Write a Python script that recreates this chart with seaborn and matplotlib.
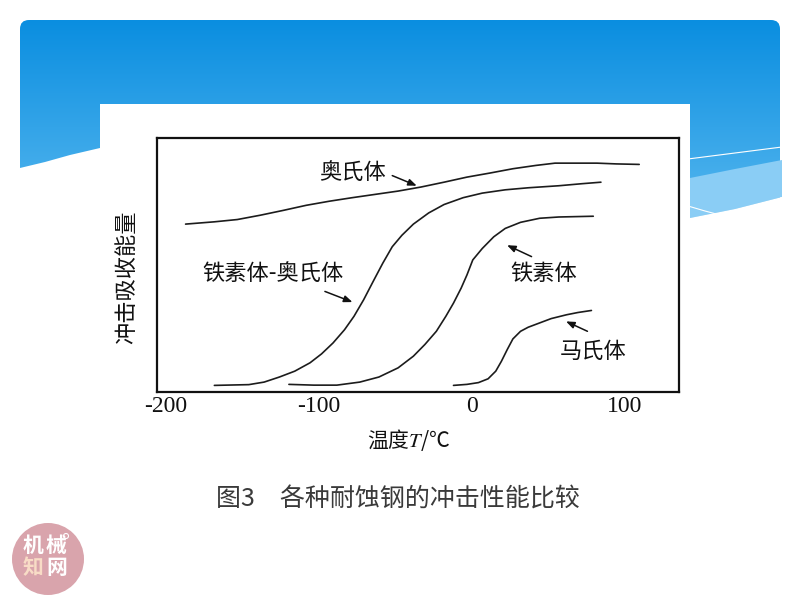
import numpy as np
import pandas as pd
import matplotlib
matplotlib.use('Agg')
import matplotlib.pyplot as plt
from matplotlib.patches import FancyBboxPatch, Rectangle, Polygon, Circle
import seaborn as sns

# Impact energy curves (temperature in degC, energy in relative units 0-100)
aus_T = [-187.0, -168.2, -153.2, -138.2, -123.2, -108.2, -93.2, -78.2, -63.2, -48.2, -33.2,
         -18.2, -3.2, 11.8, 26.8, 41.8, 54.3, 69.3, 81.8, 94.3, 109.3]
aus_E = [66.1, 67.0, 67.9, 69.6, 71.5, 73.5, 75.1, 76.5, 77.8, 79.1, 80.7,
         82.6, 84.6, 86.2, 87.9, 89.2, 90.1, 90.1, 90.1, 89.8, 89.6]

fa_T = [-168.2, -145.7, -135.7, -125.7, -115.7, -105.7, -98.2, -90.7, -83.2, -77.0, -70.7,
        -64.5, -58.2, -52.0, -45.7, -38.2, -28.2, -18.2, -5.7, 6.8, 21.8, 36.8, 56.8, 71.8, 84.3]
fa_E = [2.6, 2.9, 3.9, 5.9, 8.2, 11.5, 15.0, 19.3, 24.5, 29.8, 36.3,
        43.5, 50.7, 57.2, 61.7, 66.1, 70.5, 73.8, 76.5, 78.3, 79.6, 80.4, 81.2, 82.0, 82.6]

fer_T = [-119.5, -103.2, -88.2, -73.2, -60.7, -48.2, -38.2, -30.7, -23.2, -17.0, -12.0,
         -7.0, -3.2, 0.6, 6.8, 14.3, 21.8, 31.8, 44.3, 56.8, 79.3]
fer_E = [3.0, 2.7, 2.7, 3.9, 5.9, 9.5, 14.1, 18.7, 23.9, 29.8, 35.0,
         40.9, 46.1, 52.0, 56.5, 61.1, 64.4, 66.8, 68.4, 68.9, 69.2]

mar_T = [-12.0, -3.2, 4.3, 10.6, 15.6, 19.3, 23.1, 26.8, 31.8, 36.8, 44.3, 51.8, 61.8, 69.3, 78.1]
mar_E = [2.6, 3.0, 3.7, 5.2, 8.2, 12.1, 16.7, 20.9, 23.9, 25.5, 27.2, 28.9, 30.4, 31.3, 32.1]

steel_names = ['奥氏体', '铁素体-奥氏体', '铁素体', '马氏体']

# label position and arrow (tail -> tip) for each curve
label_xy = [(-78, 86.4), (-130, 46.5), (47, 46.5), (79, 16.0)]
arrow_tail = [(-52, 85.2), (-96, 39.6), (39, 53.3), (75.5, 23.9)]
arrow_tip = [(-36, 81.2), (-78, 35.4), (23, 57.8), (61.5, 27.8)]

xticks = [-200, -100, 0, 100]

df = pd.concat([
    pd.DataFrame({'T': aus_T, 'E': aus_E, 'steel': steel_names[0]}),
    pd.DataFrame({'T': fa_T, 'E': fa_E, 'steel': steel_names[1]}),
    pd.DataFrame({'T': fer_T, 'E': fer_E, 'steel': steel_names[2]}),
    pd.DataFrame({'T': mar_T, 'E': mar_E, 'steel': steel_names[3]}),
], ignore_index=True)

sns.set_style('white')
plt.rcParams['font.family'] = ['Noto Sans CJK SC', 'DejaVu Sans']
plt.rcParams['mathtext.fontset'] = 'stix'

fig = plt.figure(figsize=(8, 6), dpi=100)

# slide background in pixel coordinates
bg = fig.add_axes([0, 0, 1, 1], zorder=0)
bg.set_xlim(0, 800)
bg.set_ylim(600, 0)
bg.axis('off')

top_c = np.array([10, 142, 224]) / 255
bot_c = np.array([92, 186, 240]) / 255
t = np.linspace(0, 1, 200)[:, None, None]
grad = top_c * (1 - t) + bot_c * t
im = bg.imshow(grad, extent=(20, 780, 235, 20), aspect='auto', zorder=1)
clip = FancyBboxPatch((20, 20), 760, 215, boxstyle='round,pad=0,rounding_size=9',
                      transform=bg.transData, facecolor='none', edgecolor='none')
bg.add_patch(clip)
im.set_clip_path(clip)

# waves
bg.add_patch(Polygon([(20, 168), (45, 162), (70, 155), (100, 148), (115, 145),
                      (115, 250), (20, 250)], closed=True, fc='white', ec='none', zorder=2))
bg.add_patch(Polygon([(680, 180), (735, 169), (782, 160), (782, 197), (735, 209), (680, 220)],
                     closed=True, fc='#8acdf5', ec='none', zorder=2))
bg.add_patch(Polygon([(680, 220), (735, 209), (782, 197), (782, 250), (680, 250)],
                     closed=True, fc='white', ec='none', zorder=2))
bg.plot([680, 735, 782], [160, 153, 147], color='white', lw=0.8, zorder=3)
bg.plot([688, 705, 720], [206, 211, 215], color='white', lw=0.8, zorder=3)

# white picture panel
bg.add_patch(Rectangle((100, 104), 590, 380, fc='white', ec='none', zorder=4))

# logo
bg.add_patch(Circle((48, 559), 36, fc='#d9a4ac', ec='none', zorder=5))
bg.add_patch(Circle((66, 536), 2.5, fc='none', ec='white', lw=0.8, zorder=6))
bg.text(33, 545, '机', color='white', fontsize=15, fontweight='bold', ha='center', va='center', zorder=6)
bg.text(56, 545, '械', color='white', fontsize=15, fontweight='bold', ha='center', va='center', zorder=6)
bg.text(33, 568, '知', color='#f8dcc6', fontsize=15, fontweight='bold', ha='center', va='center', zorder=6)
bg.text(57, 568, '网', color='white', fontsize=15, fontweight='bold', ha='center', va='center', zorder=6)

# caption
bg.text(398, 500, '图3　各种耐蚀钢的冲击性能比较', color='#3a3a3a', fontsize=18,
        ha='center', va='center', zorder=6)

# chart
ax = fig.add_axes([156.5 / 800, 1 - 392 / 600, (679.3 - 156.5) / 800, (392 - 138) / 600], zorder=2)
sns.lineplot(data=df, x='T', y='E', hue='steel', palette=['#1c1c1c'] * 4,
             sort=False, estimator=None, legend=False, lw=1.2, ax=ax)
ax.set_xlim(-206, 135.5)
ax.set_ylim(0, 100)
ax.set_yticks([])
ax.set_xticks(xticks)
ax.set_xticklabels([str(v) for v in xticks], fontfamily='Liberation Serif', fontsize=17)
ax.tick_params(axis='x', direction='in', length=5, width=1, pad=3, colors='#111')
ax.xaxis.get_major_ticks()[0].tick1line.set_visible(False)
for s in ax.spines.values():
    s.set_color('#111')
    s.set_linewidth(1.6)
ax.set_xlabel('')
ax.set_ylabel('')
ax.text(0.483, -0.19, '温度$T$/℃', transform=ax.transAxes, fontsize=15,
        ha='center', va='center', color='#111')
ax.text(-0.058, 0.45, '冲击吸收能量', transform=ax.transAxes, fontsize=16,
        rotation=90, ha='center', va='center', color='#111')

for name, (lx, ly), tail, tip in zip(steel_names, label_xy, arrow_tail, arrow_tip):
    ax.text(lx, ly, name, fontsize=16, ha='center', va='center', color='#111')
    ax.annotate('', xy=tip, xytext=tail,
                arrowprops=dict(arrowstyle='-|>,head_length=0.5,head_width=0.2',
                                color='#111', lw=1.1, shrinkA=0, shrinkB=0))

fig.savefig('out.png', dpi=100)
